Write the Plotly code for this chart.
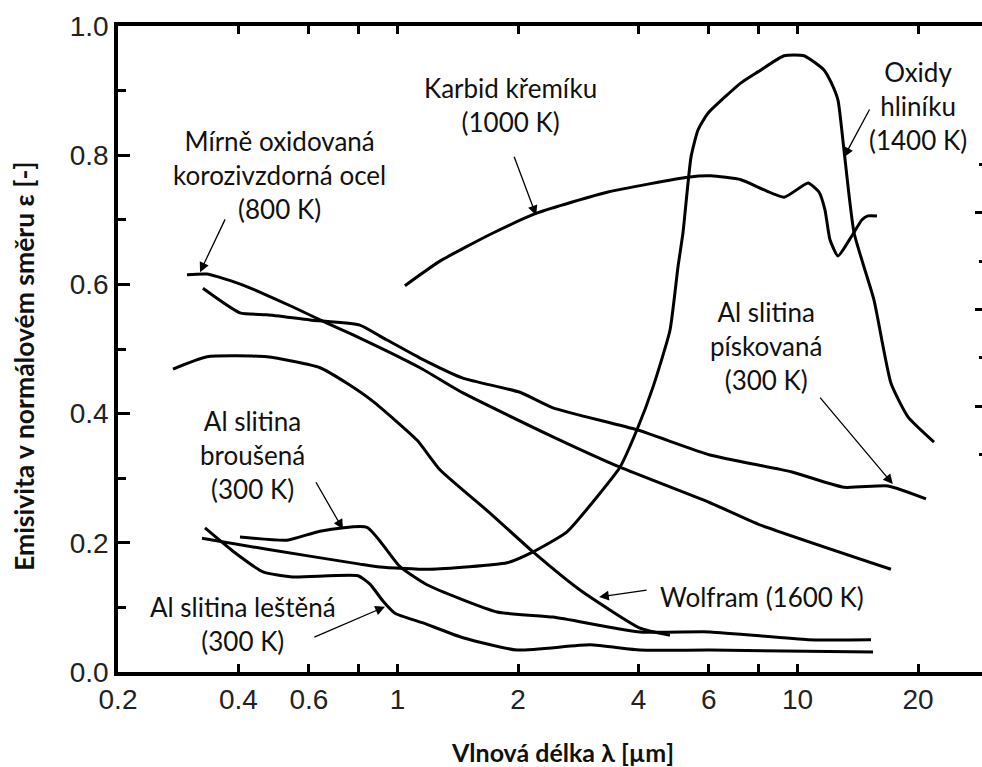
import math
import plotly.graph_objects as go

# ---------------- data (wavelength in µm, emissivity) ----------------
sic_x = [1.043, 1.276, 1.712, 2.244, 3.357, 5.32, 6.075, 7.22, 9.25, 10.62, 11.31, 11.71, 12.05, 12.62, 13.6, 14.49, 15.0, 15.79]
sic_y = [0.598, 0.636, 0.678, 0.711, 0.743, 0.766, 0.768, 0.762, 0.735, 0.757, 0.743, 0.715, 0.669, 0.644, 0.673, 0.700, 0.706, 0.706]

alox_x = [0.3243, 0.4716, 0.805, 0.9036, 1.205, 1.877, 2.181, 2.652, 3.151, 3.597, 3.967, 4.35, 4.797, 5.023, 5.17, 5.414,
          5.636, 5.97, 7.22, 7.96, 9.25, 10.38, 11.64, 12.12, 12.62, 13.06, 13.84, 15.52, 17.12, 18.88, 21.93]
alox_y = [0.207, 0.190, 0.167, 0.1625, 0.159, 0.169, 0.186, 0.217, 0.271, 0.317, 0.375, 0.441, 0.529, 0.627, 0.680, 0.797,
          0.839, 0.865, 0.912, 0.929, 0.954, 0.954, 0.932, 0.913, 0.885, 0.808, 0.680, 0.576, 0.447, 0.395, 0.356]

steel_x = [0.2975, 0.334, 0.4107, 0.5476, 0.666, 0.805, 1.138, 1.457, 2.446, 3.597, 6.04, 7.96, 17.12]
steel_y = [0.615, 0.616, 0.599, 0.565, 0.540, 0.517, 0.471, 0.432, 0.364, 0.317, 0.262, 0.229, 0.159]

sand_x = [0.326, 0.4036, 0.4716, 0.604, 0.805, 0.9036, 1.138, 1.457, 2.023, 2.446, 3.967, 6.04, 9.63, 13.06, 16.83, 20.94]
sand_y = [0.594, 0.556, 0.553, 0.545, 0.537, 0.520, 0.486, 0.455, 0.433, 0.409, 0.375, 0.336, 0.310, 0.286, 0.288, 0.268]

w_x = [0.2745, 0.334, 0.4716, 0.6397, 0.7472, 0.868, 1.118, 1.276, 1.702, 2.181, 2.858, 4.036, 4.797]
w_y = [0.469, 0.488, 0.488, 0.471, 0.447, 0.419, 0.359, 0.313, 0.246, 0.186, 0.127, 0.068, 0.057]

ground_x = [0.4036, 0.529, 0.6397, 0.8386, 1.014, 1.184, 1.772, 2.446, 4.036, 6.04, 10.62, 15.26]
ground_y = [0.209, 0.204, 0.218, 0.224, 0.163, 0.135, 0.093, 0.085, 0.062, 0.062, 0.050, 0.050]

pol_x = [0.330, 0.3877, 0.4609, 0.5476, 0.796, 0.853, 0.919, 0.985, 1.158, 1.457, 1.988, 3.027, 4.036, 6.04, 15.44]
pol_y = [0.223, 0.187, 0.155, 0.147, 0.149, 0.136, 0.110, 0.091, 0.076, 0.053, 0.034, 0.042, 0.034, 0.034, 0.031]

x_tickvals = [0.2, 0.4, 0.6, 0.8, 1, 2, 4, 6, 8, 10, 20]
x_ticktext = ["0.2", "0.4", "0.6", "", "1", "2", "4", "6", "", "10", "20"]
y_tickvals = [0.0, 0.2, 0.4, 0.6, 0.8, 1.0]
y_ticktext = ["0.0", "0.2", "0.4", "0.6", "0.8", "1.0"]

labels = [
    # text, text x (µm), text y, arrow head (x, y), arrow tail (x, y), anchor
    ("Mírně oxidovaná<br>korozivzdorná ocel<br>(800 K)", 0.508, 0.770, (0.3207, 0.619), (0.372, 0.703), "center"),
    ("Karbid křemíku<br>(1000 K)", 1.92, 0.878, (2.22, 0.707), (1.95, 0.800), "center"),
    ("Oxidy<br>hliníku<br>(1400 K)", 20.0, 0.8755, (13.06, 0.797), (15.2, 0.873), "center"),
    ("Al slitina<br>pískovaná<br>(300 K)", 8.34, 0.5045, (17.3, 0.291), (11.3, 0.427), "center"),
    ("Al slitina<br>broušená<br>(300 K)", 0.435, 0.336, (0.730, 0.221), (0.622, 0.296), "center"),
    ("Al slitina leštěná<br>(300 K)", 0.411, 0.074, (0.930, 0.101), (0.614, 0.053), "center"),
    ("Wolfram (1600 K)", 4.48, 0.116, (3.19, 0.116), (4.23, 0.127), "left"),
]

# ---------------- figure ----------------
W, H = 982, 767
ML, MR, MT, MB = 118, 0, 26, 95
x_lo = math.log10(0.2)
x_hi = x_lo + (W - ML - MR) / 400.0

fig = go.Figure()
line = dict(color="black", width=3, shape="spline", smoothing=0.5)
for xs, ys in [(sic_x, sic_y), (alox_x, alox_y), (steel_x, steel_y), (sand_x, sand_y),
               (w_x, w_y), (ground_x, ground_y), (pol_x, pol_y)]:
    fig.add_trace(go.Scatter(x=xs, y=ys, mode="lines", line=line, showlegend=False, hoverinfo="skip"))

# empty traces so the right-edge tick axes get drawn
fig.add_trace(go.Scatter(x=[], y=[], yaxis="y2", showlegend=False, hoverinfo="skip"))
fig.add_trace(go.Scatter(x=[], y=[], yaxis="y3", showlegend=False, hoverinfo="skip"))

tickfont = dict(family="Liberation Sans, Arial, sans-serif", size=28, color="#222222")
txtfont = dict(family="Lato, sans-serif", size=26, color="#111111")

annotations = []
for text, tx, ty, head, tail, anchor in labels:
    annotations.append(dict(x=math.log10(head[0]), y=head[1], ax=math.log10(tail[0]), ay=tail[1],
                            xref="x", yref="y", axref="x", ayref="y", text="", showarrow=True,
                            arrowhead=2, arrowsize=1.5, arrowwidth=1.3, arrowcolor="black"))
    annotations.append(dict(x=math.log10(tx), y=ty, xref="x", yref="y", text=text, showarrow=False,
                            font=txtfont, xanchor=anchor, yanchor="middle", align="center"))

annotations.append(dict(x=(562 - ML) / (W - ML - MR), y=(H - MB - 752) / (H - MT - MB), xref="paper", yref="paper",
                        text="Vlnová délka λ [µm]", showarrow=False, xanchor="center", yanchor="middle",
                        font=dict(family="Lato, sans-serif", size=25, color="#111111", weight="bold")))
annotations.append(dict(x=(24 - ML) / (W - ML - MR), y=(H - MB - 366) / (H - MT - MB), xref="paper", yref="paper",
                        text="Emisivita v normálovém směru ε [-]", showarrow=False, textangle=-90,
                        xanchor="center", yanchor="middle",
                        font=dict(family="Lato, sans-serif", size=26.5, color="#111111", weight="bold")))

y2_lo = -0.5
y2_hi = y2_lo + (H - MT - MB) / 48.33

fig.update_layout(
    width=W, height=H,
    margin=dict(l=ML, r=MR, t=MT, b=MB, pad=0),
    paper_bgcolor="white", plot_bgcolor="white",
    showlegend=False,
    annotations=annotations,
    xaxis=dict(type="log", range=[x_lo, x_hi], tickvals=x_tickvals, ticktext=x_ticktext,
               ticks="inside", ticklen=8, tickwidth=3, tickcolor="black",
               showline=True, linewidth=3.5, linecolor="black", mirror="ticks",
               showgrid=False, zeroline=False, tickfont=tickfont),
    xaxis2=dict(type="log", range=[x_lo, x_hi], overlaying="x", anchor="y", side="bottom",
                tickvals=[1, 10], ticks="inside", ticklen=14, tickwidth=3, tickcolor="black",
                showline=True, linewidth=3.5, linecolor="black", mirror="ticks",
                showticklabels=False, showgrid=False, zeroline=False),
    yaxis=dict(range=[0, 1.0], tickvals=y_tickvals, ticktext=y_ticktext,
               ticks="inside", ticklen=12, tickwidth=3, tickcolor="black",
               minor=dict(dtick=0.1, tick0=0, ticks="inside", ticklen=8, tickwidth=3, tickcolor="black"),
               showline=True, linewidth=3.5, linecolor="black", mirror=False,
               showgrid=False, zeroline=False, tickfont=tickfont),
    yaxis2=dict(range=[y2_lo, y2_hi], overlaying="y", side="right", anchor="x",
                tickvals=[5, 7, 9], ticks="inside", ticklen=7, tickwidth=3, tickcolor="black",
                showline=False, showticklabels=False, showgrid=False, zeroline=False),
    yaxis3=dict(range=[y2_lo, y2_hi], overlaying="y", side="right", anchor="x",
                tickvals=[4, 6, 8, 10], ticks="inside", ticklen=3, tickwidth=3, tickcolor="black",
                showline=False, showticklabels=False, showgrid=False, zeroline=False),
)

fig.write_html("out.html")
